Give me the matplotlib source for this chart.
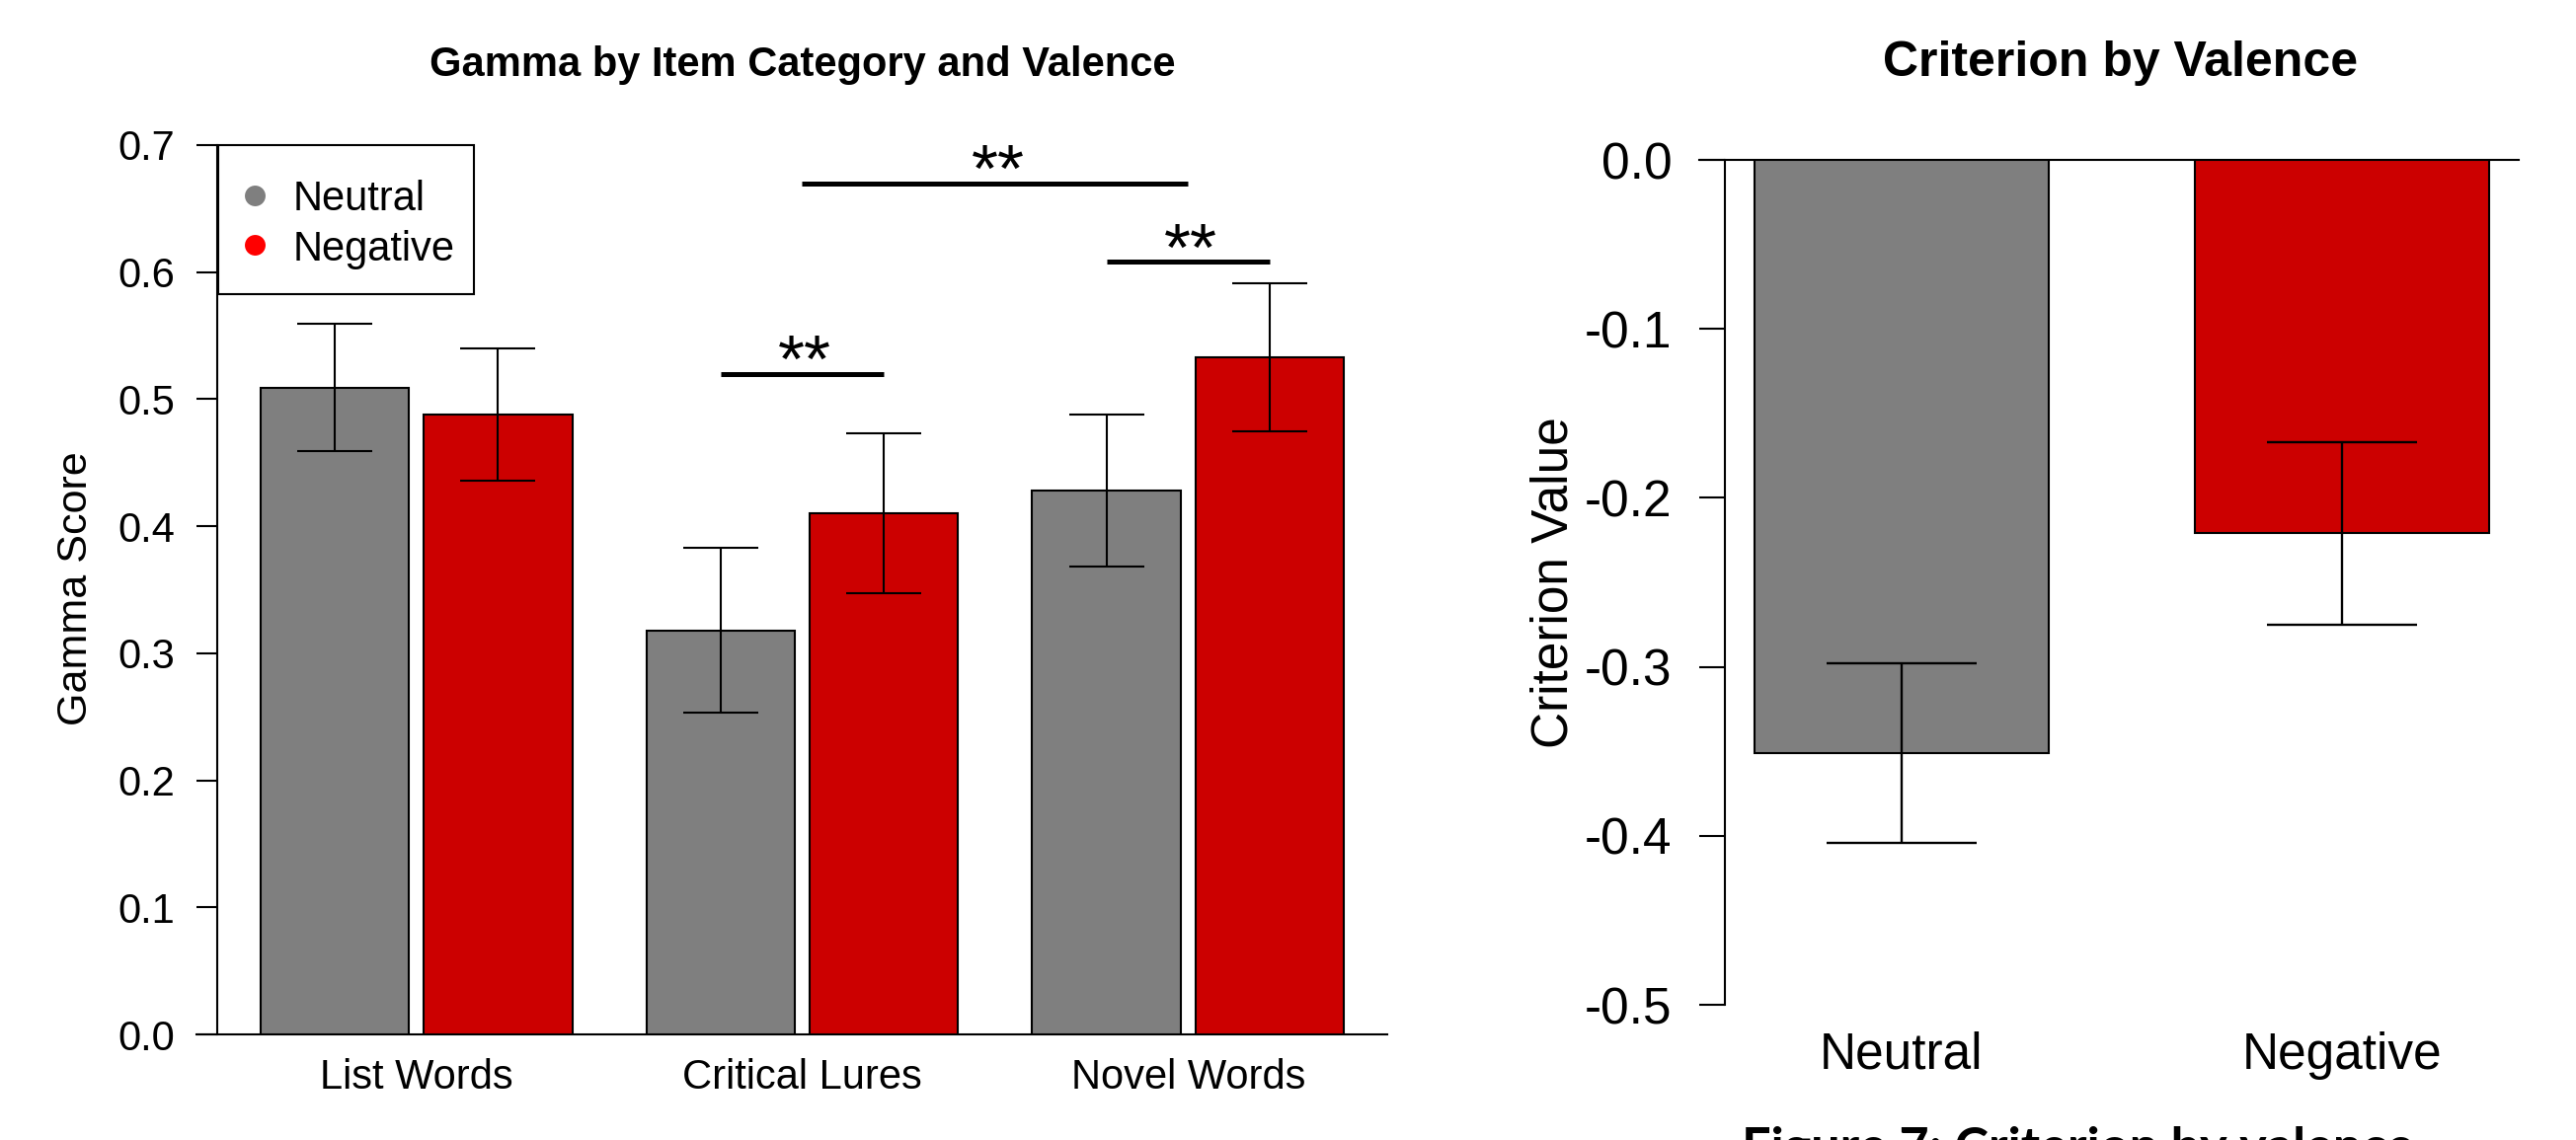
import matplotlib
matplotlib.use('Agg')
import matplotlib.pyplot as plt
from matplotlib.patches import Rectangle
import numpy as np

plt.rcParams['font.family'] = ['Liberation Sans', 'DejaVu Sans']
plt.rcParams['axes.unicode_minus'] = False

# ---------------- data ----------------
categories = ['List Words', 'Critical Lures', 'Novel Words']
valence = ['Neutral', 'Negative']
gamma_neutral = [0.509, 0.318, 0.428]
gamma_negative = [0.488, 0.410, 0.533]
gamma_neutral_se = [0.050, 0.065, 0.060]
gamma_negative_se = [0.052, 0.063, 0.058]
gamma_ticks = [0.0, 0.1, 0.2, 0.3, 0.4, 0.5, 0.6, 0.7]
sig_labels = ['**', '**', '**']
sig_heights = [0.520, 0.670, 0.608]

criterion = [-0.351, -0.221]
criterion_se = [0.053, 0.054]
criterion_ticks = [0.0, -0.1, -0.2, -0.3, -0.4, -0.5]

bar_colors = ['#7F7F7F', '#CC0000']
legend_colors = ['#7F7F7F', '#FF0000']

left_title = 'Gamma by Item Category and Valence'
right_title = 'Criterion by Valence'
caption = 'Figure 7: Criterion by valence'

# ---------------- layout helpers ----------------
W, H = 2609, 1155
fig = plt.figure(figsize=(W / 100, H / 100), dpi=100)


def fx(px):
    return px / W


def fy(py):
    return 1 - py / H


LW = 1.5

# ---------------- left panel ----------------
axL = fig.add_axes([fx(220), fy(1048), fx(1405) - fx(220), fy(147) - fy(1048)])
bw = 1.0
inner = 0.1
outer = 0.5
group_pitch = 2 * bw + inner + outer
group_left = np.array([0.5 + g * group_pitch for g in range(len(categories))])
x_neu = group_left + bw / 2
x_neg = group_left + bw + inner + bw / 2
group_centers = (x_neu + x_neg) / 2

axL.bar(x_neu, gamma_neutral, width=bw, color=bar_colors[0], edgecolor='black', linewidth=LW, zorder=2)
axL.bar(x_neg, gamma_negative, width=bw, color=bar_colors[1], edgecolor='black', linewidth=LW, zorder=2)
axL.errorbar(x_neu, gamma_neutral, yerr=gamma_neutral_se, fmt='none', ecolor='black',
             elinewidth=LW, capsize=27.4, capthick=LW, zorder=3)
axL.errorbar(x_neg, gamma_negative, yerr=gamma_negative_se, fmt='none', ecolor='black',
             elinewidth=LW, capsize=27.4, capthick=LW, zorder=3)

lo = group_left[0]
hi = x_neg[-1] + bw / 2
pad = 0.04 * (hi - lo)
axL.set_xlim(lo - pad, hi + pad)
axL.set_ylim(0, 0.7)

for s in ['top', 'right', 'bottom']:
    axL.spines[s].set_visible(False)
axL.spines['left'].set_linewidth(LW)
axL.axhline(0, xmin=-21 / 1185, xmax=1, color='black', linewidth=LW, clip_on=False, zorder=1)

axL.set_yticks(gamma_ticks)
axL.set_yticklabels(['%.1f' % t for t in gamma_ticks])
axL.tick_params(axis='y', length=15.1, width=LW, pad=15.8, labelsize=30)
axL.set_xticks(group_centers)
axL.set_xticklabels(categories)
axL.tick_params(axis='x', length=0, pad=17, labelsize=30)

# significance bars
sig_spans = [(x_neu[1], x_neg[1]), (group_centers[1], group_centers[2]), (x_neu[2], x_neg[2])]
sig_y = [sig_heights[0], sig_heights[1], sig_heights[2]]
for (x0, x1), yv, lab in zip(sig_spans, sig_y, sig_labels):
    axL.plot([x0, x1], [yv, yv], color='black', linewidth=3.6, solid_capstyle='butt',
             clip_on=False, zorder=4)
    axL.annotate(lab, xy=((x0 + x1) / 2, yv), xytext=(2, -6), textcoords='offset points',
                 ha='center', va='baseline', fontsize=50, annotation_clip=False)

# legend (manual, R style)
axL.add_patch(Rectangle((0.0008, 0.8324), 0.2186, 0.1676, transform=axL.transAxes,
                        facecolor='white', edgecolor='black', linewidth=LW, zorder=5,
                        clip_on=False))
leg_marker_y = [0.9434, 0.8879]
leg_text_y = [0.9267, 0.8701]
for lab, col, my, ty in zip(valence, legend_colors, leg_marker_y, leg_text_y):
    axL.scatter([0.0321], [my], s=227, color=col, transform=axL.transAxes, zorder=6,
                clip_on=False, linewidths=0)
    axL.text(0.065, ty, lab, transform=axL.transAxes, fontsize=30, ha='left',
             va='baseline', zorder=6)

fig.text(fx(813), fy(77), left_title, ha='center', va='baseline', fontsize=30, fontweight='bold')
fig.text(fx(97), fy(596), 'Gamma Score', rotation=90, ha='right', va='center', fontsize=31)

# ---------------- right panel ----------------
axR = fig.add_axes([fx(1747), fy(1018), fx(2551) - fx(1747), fy(162) - fy(1018)])
rb_space = 0.5
xr = np.array([rb_space + bw / 2 + i * (bw + rb_space) for i in range(len(valence))])
axR.bar(xr, criterion, width=bw, color=bar_colors, edgecolor='black', linewidth=LW, zorder=2)
axR.errorbar(xr, criterion, yerr=criterion_se, fmt='none', ecolor='black',
             elinewidth=1.7, capsize=54.7, capthick=1.7, zorder=3)
rlo = xr[0] - bw / 2
rhi = xr[-1] + bw / 2
rpad = 0.04 * (rhi - rlo)
axR.set_xlim(rlo - rpad, rhi + rpad)
axR.set_ylim(-0.5, 0)
for s in ['top', 'right', 'bottom']:
    axR.spines[s].set_visible(False)
axR.spines['left'].set_linewidth(LW)
axR.axhline(0, xmin=-26 / 804, xmax=1, color='black', linewidth=LW, clip_on=False, zorder=1)
axR.set_yticks(criterion_ticks)
axR.set_yticklabels(['%.1f' % t for t in criterion_ticks])
axR.tick_params(axis='y', length=18.7, width=LW, pad=20, labelsize=37)
axR.set_xticks(xr)
axR.set_xticklabels(valence)
axR.tick_params(axis='x', length=0, pad=19.4, labelsize=37)

fig.text(fx(2148), fy(77), right_title, ha='center', va='baseline', fontsize=36, fontweight='bold')
fig.text(fx(1599), fy(590), 'Criterion Value', rotation=90, ha='right', va='center', fontsize=37)

# caption cut off at bottom
fig.text(fx(1764), fy(1178), caption, ha='left', va='baseline', fontsize=37.5,
         fontweight='bold', family=['Lato', 'DejaVu Sans'])

fig.savefig('out.png', dpi=100, facecolor='white')
